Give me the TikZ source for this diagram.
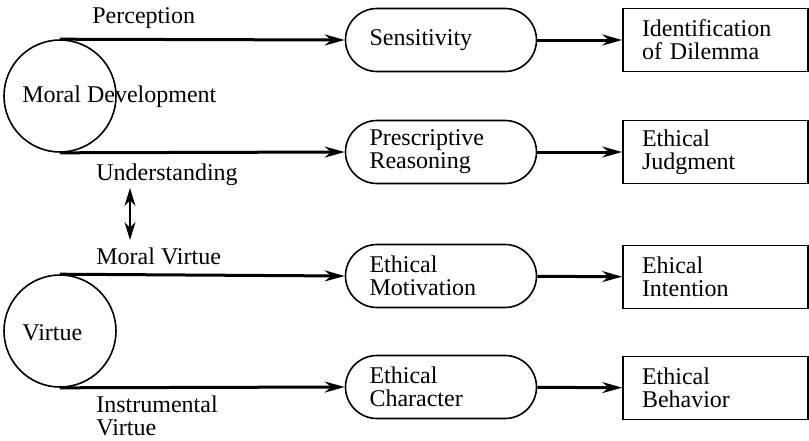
\documentclass[tikz,border=0pt]{standalone}
\usepackage{fontspec}
\setmainfont{Liberation Serif}
\usetikzlibrary{arrows.meta,positioning}

\begin{document}
\begin{tikzpicture}[
        x=0.5pt, y=-0.5pt,
        font=\fontsize{12}{11.5}\selectfont,
        root/.style={draw, circle, line width=0.8pt, minimum size=56pt, inner sep=0pt},
        stage/.style={draw, rectangle, rounded corners=15.75pt, line width=0.8pt, minimum height=31.5pt, text width=71.5pt, inner xsep=12pt, align=left},
        result/.style={draw, rectangle, line width=0.8pt, minimum height=31.5pt, text width=73.5pt, inner xsep=9.5pt, align=left},
        lbl/.style={anchor=west, inner sep=0pt, align=left},
        arrow/.style={-{Stealth[length=10pt, width=5.5pt]}, line width=1.5pt}
    ]
        \useasboundingbox (0,0) rectangle (809,440);

        % Root circles
        \node[root] (md) at (60,96) {};
        \node[lbl] (mdtext) at (22,97) {Moral Development};
        \node[root] (vt) at (60,331) {};
        \node[lbl] (vttext) at (22,333) {Virtue};

        % Middle stages
        \node[stage] (sens) at (441,40) {Sensitivity};
        \node[stage] (reason) at (441,152) {Prescriptive\\Reasoning};
        \node[stage] (motiv) at (441,276) {Ethical\\Motivation};
        \node[stage] (charac) at (441,387) {Ethical\\Character};

        % Results
        \node[result] (ident) at (715.5,40) {Identification\\of Dilemma};
        \node[result] (judg) at (715.5,152) {Ethical\\Judgment};
        \node[result] (inten) at (715.5,277) {Ehical\\Intention};
        \node[result] (behav) at (715.5,388) {Ethical\\Behavior};

        % Path labels
        \node[lbl] (perc) at (92,18) {Perception};
        \node[lbl] (under) at (96,175) {Understanding};
        \node[lbl] (mvirt) at (96,256) {Moral Virtue};
        \node[lbl, anchor=north west] (instr) at (96,395) {Instrumental\\Virtue};

        % Arrows from the circles
        \draw[arrow] (md.north) -- (sens.west);
        \draw[arrow] (md.south) -- (reason.west);
        \draw[arrow] (vt.north) -- (motiv.west);
        \draw[arrow] (vt.south) -- (charac.west);

        % Arrows to the results
        \draw[arrow] (sens) -- (ident);
        \draw[arrow] (reason) -- (judg);
        \draw[arrow] (motiv) -- (inten);
        \draw[arrow] (charac) -- (behav);

        % Link between the two parts
        \coordinate (ua) at (130,188);
        \coordinate (ub) at (130,240);
        \draw[{Stealth[length=9pt, width=5.5pt]}-{Stealth[length=9pt, width=5.5pt]}, line width=0.8pt] (ua) -- (ub);
    \end{tikzpicture}
\end{document}
